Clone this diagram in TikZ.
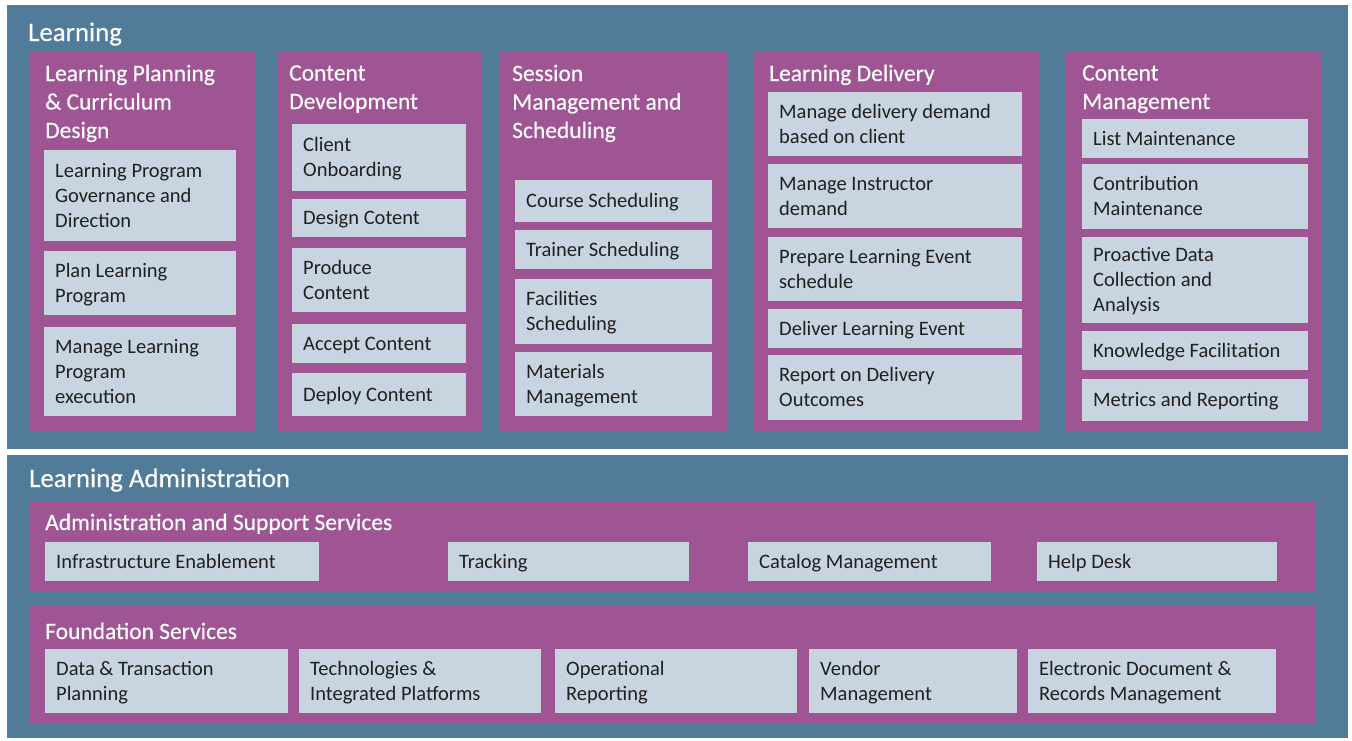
\documentclass[tikz,border=0pt]{standalone}
\usepackage{fontspec}
\setmainfont{Carlito}
\newfontfamily\ttlfont[FakeBold=0.35]{Carlito}
\definecolor{teal}{HTML}{507C9A}
\definecolor{purp}{HTML}{9F5494}
\definecolor{lbx}{HTML}{C8D4E0}
\definecolor{txt}{HTML}{202020}
\tikzset{
  rect/.style={rectangle, inner sep=0pt, outer sep=0pt, draw=none, anchor=north west},
  outerpanel/.style={rect, fill=teal},
  colpanel/.style={rect, fill=purp},
  lbox/.style={rect, fill=lbx},
  btxt/.style={anchor=base west, align=left, inner sep=0pt, text=txt, font=\fontsize{20.5}{25}\selectfont},
  subttl/.style={anchor=base west, align=left, inner sep=0pt, text=white, font=\ttlfont\fontsize{23.5}{28.5}\selectfont},
  mainttl/.style={anchor=base west, align=left, inner sep=0pt, text=white, font=\ttlfont\fontsize{26.8}{32}\selectfont},
}
% #1 style, #2 name, #3 x1, #4 y1, #5 x2, #6 y2
\newcommand\pnl[6]{\node[#1, minimum width={(#5-#3)*1pt}, minimum height={(#6-#4)*1pt}] (#2) at (#3,#4) {};}
% #1 name, #2 x1, #3 y1, #4 x2, #5 y2, #6 number of lines, #7 text  (anchor = baseline of last line)
\newcommand\bx[7]{%
  \pnl{lbox}{#1}{#2}{#3}{#4}{#5}
  \node[btxt] (#1-t) at ({#2+11},{(#3+#5)/2+(#6-1)*12.5+6.5}) {#7};}
\begin{document}
\begin{tikzpicture}[x=1pt,y=-1pt]
\useasboundingbox[fill=white] (0,0) rectangle (1352,740);
% outer panels
\pnl{outerpanel}{learn}{7}{5}{1348}{449}
\pnl{outerpanel}{admin}{7}{455}{1348}{738}
\node[mainttl] (learn-t) at (28,41) {Learning};
\node[mainttl] (admin-t) at (29,487) {Learning Administration};
% column 1
\pnl{colpanel}{c1}{29}{52}{256}{431}
\node[subttl] (c1-t) at (45,138) {Learning Planning\\\& Curriculum\\Design};
\bx{b11}{44}{150}{236}{241}{3}{Learning Program\\Governance and\\Direction}
\bx{b12}{44}{251}{236}{315}{2}{Plan Learning\\Program}
\bx{b13}{44}{327}{236}{416}{3}{Manage Learning\\Program\\execution}
% column 2
\pnl{colpanel}{c2}{277}{52}{481}{431}
\node[subttl] (c2-t) at (289,109) {Content\\Development};
\bx{b21}{292}{124}{466}{191}{2}{Client\\Onboarding}
\bx{b22}{292}{199}{466}{237}{1}{Design Cotent}
\bx{b23}{292}{248}{466}{312}{2}{Produce\\Content}
\bx{b24}{292}{324}{466}{363}{1}{Accept Content}
\bx{b25}{292}{373}{466}{416}{1}{Deploy Content}
% column 3
\pnl{colpanel}{c3}{499}{52}{728}{431}
\node[subttl] (c3-t) at (512,138) {Session\\Management and\\Scheduling};
\bx{b31}{515}{180}{712}{222}{1}{Course Scheduling}
\bx{b32}{515}{230}{712}{269}{1}{Trainer Scheduling}
\bx{b33}{515}{279}{712}{344}{2}{Facilities\\Scheduling}
\bx{b34}{515}{352}{712}{416}{2}{Materials\\Management}
% column 4
\pnl{colpanel}{c4}{753}{52}{1040}{431}
\node[subttl] (c4-t) at (769,81) {Learning Delivery};
\bx{b41}{768}{92}{1022}{156}{2}{Manage delivery demand\\based on client}
\bx{b42}{768}{164}{1022}{228}{2}{Manage Instructor\\demand}
\bx{b43}{768}{237}{1022}{301}{2}{Prepare Learning Event\\schedule}
\bx{b44}{768}{309}{1022}{348}{1}{Deliver Learning Event}
\bx{b45}{768}{355}{1022}{420}{2}{Report on Delivery\\Outcomes}
% column 5
\pnl{colpanel}{c5}{1066}{52}{1322}{431}
\node[subttl] (c5-t) at (1082,109) {Content\\Management};
\bx{b51}{1082}{119}{1308}{158}{1}{List Maintenance}
\bx{b52}{1082}{164}{1308}{229}{2}{Contribution\\Maintenance}
\bx{b53}{1082}{237}{1308}{323}{3}{Proactive Data\\Collection and\\Analysis}
\bx{b54}{1082}{331}{1308}{370}{1}{Knowledge Facilitation}
\bx{b55}{1082}{379}{1308}{421}{1}{Metrics and Reporting}
% administration and support services
\pnl{colpanel}{as}{29}{502}{1316}{591}
\node[subttl] (as-t) at (45,530) {Administration and Support Services};
\bx{a1}{45}{542}{319}{581}{1}{Infrastructure Enablement}
\bx{a2}{448}{542}{689}{581}{1}{Tracking}
\bx{a3}{748}{542}{991}{581}{1}{Catalog Management}
\bx{a4}{1037}{542}{1277}{581}{1}{Help Desk}
% foundation services
\pnl{colpanel}{fs}{29}{605}{1316}{723}
\node[subttl] (fs-t) at (45,639) {Foundation Services};
\bx{f1}{45}{649}{288}{713}{2}{Data \& Transaction\\Planning}
\bx{f2}{299}{649}{541}{713}{2}{Technologies \&\\Integrated Platforms}
\bx{f3}{555}{649}{797}{713}{2}{Operational\\Reporting}
\bx{f4}{809}{649}{1017}{713}{2}{Vendor\\Management}
\bx{f5}{1028}{649}{1276}{713}{2}{Electronic Document \&\\Records Management}
\end{tikzpicture}
\end{document}
